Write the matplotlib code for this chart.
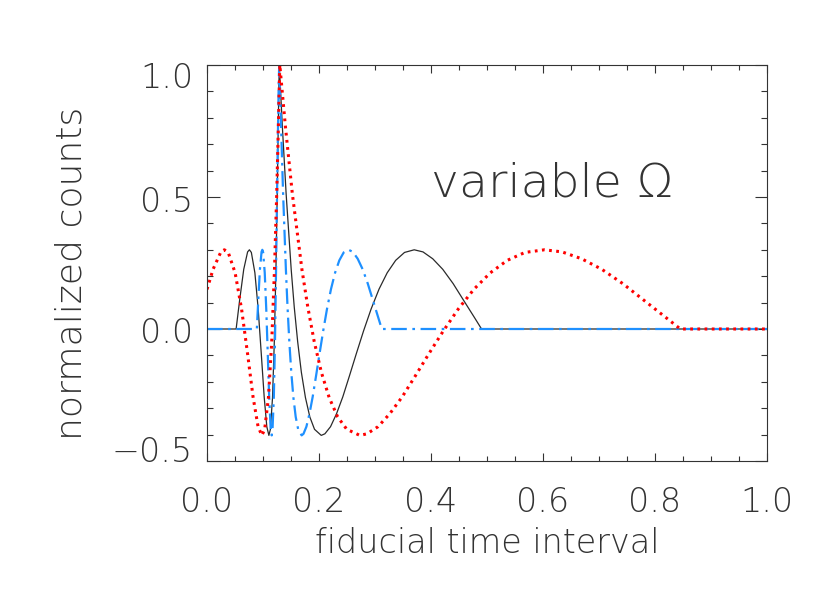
import os
import matplotlib
matplotlib.use("Agg")
import matplotlib.pyplot as plt
from matplotlib import font_manager as fm
from matplotlib.ticker import MultipleLocator

# black solid curve
x_black = [0.0, 0.0520, 0.0582, 0.0656, 0.0725, 0.0757, 0.0792, 0.0855, 0.0914, 0.0969, 0.1021,
           0.1068, 0.1105, 0.1132, 0.1170, 0.1202, 0.1231, 0.1254, 0.1272, 0.1285, 0.129,
           0.1305, 0.1346, 0.1413, 0.1504, 0.1558, 0.1619, 0.1685, 0.1758, 0.1836, 0.1920,
           0.2040, 0.2105, 0.2206, 0.2313, 0.2425, 0.2543, 0.2667, 0.2796, 0.2931, 0.3072,
           0.3218, 0.3369, 0.3527, 0.3700, 0.3857, 0.4031, 0.4210, 0.4395, 0.4584, 0.4780,
           0.4903, 1.0]
y_black = [0.0, 0.0, 0.108, 0.226, 0.292, 0.300, 0.290, 0.213, 0.076, -0.093, -0.257,
           -0.370, -0.403, -0.380, -0.260, -0.048, 0.224, 0.512, 0.765, 0.939, 1.0,
           0.939, 0.765, 0.512, 0.224, 0.083, -0.048, -0.164, -0.260, -0.333, -0.380,
           -0.403, -0.397, -0.370, -0.321, -0.257, -0.178, -0.093, -0.007, 0.076, 0.151,
           0.213, 0.260, 0.290, 0.300, 0.292, 0.266, 0.226, 0.172, 0.108, 0.042,
           0.0, 0.0]

# blue dash-dot curve
x_blue = [0.0, 0.0890, 0.0915, 0.0945, 0.0974, 0.0988, 0.1003, 0.1031, 0.1058, 0.1085, 0.1110,
          0.1135, 0.1155, 0.1170, 0.1193, 0.1214, 0.1233, 0.1251, 0.1268, 0.1281, 0.129,
          0.1299, 0.1323, 0.1359, 0.1409, 0.1438, 0.1470, 0.1505, 0.1543, 0.1584, 0.1628,
          0.1690, 0.1723, 0.1775, 0.1830, 0.1887, 0.1947, 0.2010, 0.2075, 0.2143, 0.2214,
          0.2287, 0.2363, 0.2441, 0.2528, 0.2605, 0.2691, 0.2780, 0.2871, 0.2964, 0.3060,
          0.3121, 1.0]
y_blue = [0.0, 0.0, 0.108, 0.226, 0.292, 0.300, 0.290, 0.213, 0.076, -0.093, -0.257,
          -0.370, -0.403, -0.380, -0.260, -0.048, 0.224, 0.512, 0.765, 0.939, 1.0,
          0.939, 0.765, 0.512, 0.224, 0.083, -0.048, -0.164, -0.260, -0.333, -0.380,
          -0.403, -0.397, -0.370, -0.321, -0.257, -0.178, -0.093, -0.007, 0.076, 0.151,
          0.213, 0.260, 0.290, 0.300, 0.292, 0.266, 0.226, 0.172, 0.108, 0.042,
          0.0, 0.0]

# red dotted curve
x_red = [0.0, 0.0108, 0.0248, 0.0310, 0.0379, 0.0502, 0.0617, 0.0724, 0.0822,
         0.0912, 0.0980, 0.1030, 0.1097, 0.1156, 0.1205, 0.1245, 0.1274, 0.1293, 0.130,
         0.1326, 0.1401, 0.1524, 0.1696, 0.1800, 0.1915, 0.2042, 0.2182, 0.2333, 0.2496,
         0.2730, 0.2857, 0.3054, 0.3264, 0.3486, 0.3719, 0.3964, 0.4221, 0.4488, 0.4768,
         0.5060, 0.5362, 0.5677, 0.6026, 0.6341, 0.6690, 0.7051, 0.7424, 0.7807, 0.8203,
         0.8452, 1.0]
y_red = [0.150, 0.226, 0.292, 0.300, 0.290, 0.213, 0.076, -0.093, -0.257,
         -0.370, -0.403, -0.380, -0.260, -0.048, 0.224, 0.512, 0.765, 0.939, 1.0,
         0.939, 0.765, 0.512, 0.224, 0.083, -0.048, -0.164, -0.260, -0.333, -0.380,
         -0.403, -0.397, -0.370, -0.321, -0.257, -0.178, -0.093, -0.007, 0.076, 0.151,
         0.213, 0.260, 0.290, 0.300, 0.292, 0.266, 0.226, 0.172, 0.108, 0.042,
         0.0, 0.0]

xticks = [0.0, 0.2, 0.4, 0.6, 0.8, 1.0]
yticks = [-0.5, 0.0, 0.5, 1.0]


def thin_font():
    # look for a light face so the text resembles the thin stroke font
    prefs = ["DejaVuSans-ExtraLight", "Lato-Light", "Lato-Hairline", "Roboto-Light",
             "Roboto-Thin", "OpenSans-Light", "NotoSans-Light", "Inter-Light"]
    files = [f.fname for f in fm.fontManager.ttflist]
    for p in prefs:
        for fn in files:
            if os.path.basename(fn).startswith(p):
                return fm.FontProperties(fname=fn)
    for f in fm.fontManager.ttflist:
        w = f.weight if isinstance(f.weight, int) else fm.weight_dict.get(f.weight, 400)
        if w <= 300 and f.style == "normal" and "CJK" not in f.name:
            return fm.FontProperties(fname=f.fname)
    return None


fp = thin_font()
if fp is None:
    fp = fm.FontProperties(family="DejaVu Sans")
    tcol = "#555555"
else:
    tcol = "#333333"


def txt(target, x, y, s, size, **kw):
    f = fp.copy()
    f.set_size(size)
    return target.text(x, y, s, fontproperties=f, color=tcol, **kw)


fig = plt.figure(figsize=(8.3, 5.93), dpi=100)
ax = fig.add_axes([0.2494, 0.2226, 0.6747, 0.6678])

ax.plot(x_black, y_black, color="#2a2a2a", lw=0.9)
ax.plot(x_blue, y_blue, color="#1e90ff", lw=1.6, linestyle=(0, (7, 2.5, 1.2, 2.5)))
ax.plot(x_red, y_red, color="#ff0000", lw=2.2, linestyle=(0, (0.9, 1.45)))

ax.set_xlim(0, 1)
ax.set_ylim(-0.5, 1.0)
ax.xaxis.set_major_locator(MultipleLocator(0.2))
ax.xaxis.set_minor_locator(MultipleLocator(0.05))
ax.yaxis.set_major_locator(MultipleLocator(0.5))
ax.yaxis.set_minor_locator(MultipleLocator(0.1))
ax.tick_params(axis="both", which="both", direction="in", top=True, right=True,
               labelbottom=False, labelleft=False, color="#333333", width=0.8)
ax.tick_params(axis="x", which="major", length=6)
ax.tick_params(axis="x", which="minor", length=3.5)
ax.tick_params(axis="y", which="major", length=9)
ax.tick_params(axis="y", which="minor", length=4.5)
for s in ax.spines.values():
    s.set_color("#333333")
    s.set_linewidth(0.8)

# tick labels placed by hand, like the stroke font layout
for v in xticks:
    txt(ax, v, -0.1288, "%.1f" % v, 24, transform=ax.get_xaxis_transform(),
        ha="center", va="baseline")
ylab_base = [-0.504, -0.053, 0.443, 0.913]
for v, b in zip(yticks, ylab_base):
    lab = ("%.1f" % v).replace("-", "\u2212")
    txt(ax, -0.025, b, lab, 24, ha="right", va="baseline")

txt(fig, 487 / 830, 1 - 553 / 593, "fiducial time interval", 24, ha="center", va="baseline")
txt(fig, 88 / 830, 1 - 273 / 593, "normalized counts", 26, rotation=90, ha="right", va="center")
txt(ax, 0.4, 0.5, "variable \u03a9", 34, ha="left", va="baseline")

fig.savefig("out.png", dpi=100, facecolor="white")
